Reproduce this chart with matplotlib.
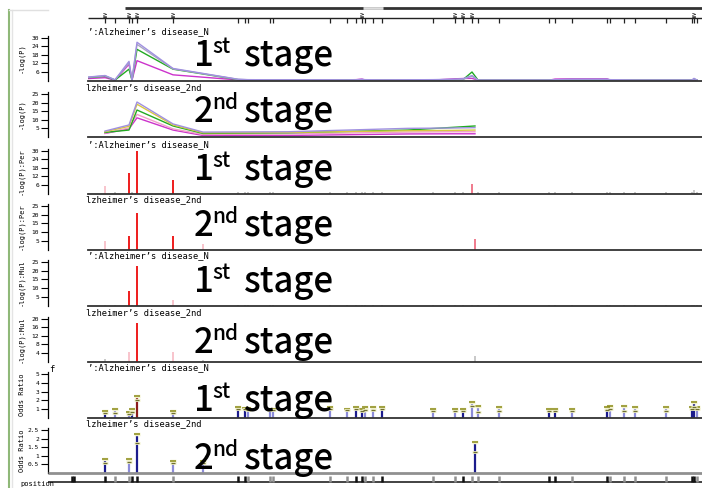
import matplotlib.pyplot as plt

W, H = 702, 488

# SNP positions (kb from the left edge of the data area)
snp_kb = [-16, -14, 17, 27, 41, 44, 49, 85, 150, 157, 160, 182, 185, 242, 259,
          268, 274, 277, 285, 294, 345, 367, 375, 384, 390, 411, 461, 467, 484,
          519, 522, 536, 547, 578, 604, 606, 609]
marked_kb = [17, 41, 49, 85, 274, 367, 375, 384, 606]

# stage 1 -log(P) lines, one value per SNP
lav1 = [1.2, 1.5, 3.5, 0.5, 13.5, 0.3, 27.0, 8.5, 0.9, 0.7, 0.6, 0.5, 0.5, 0.5, 0.4,
        0.5, 0.8, 0.6, 0.5, 0.4, 0.6, 0.9, 1.2, 3.5, 0.3, 0.3, 0.3, 0.6, 0.9, 0.9,
        0.6, 0.4, 0.3, 0.3, 0.3, 1.5, 0.3]
gry1 = [1.1, 1.4, 3.3, 0.4, 12.5, 0.3, 25.5, 8.2, 0.8, 0.6, 0.5, 0.4, 0.4, 0.4, 0.4,
        0.4, 0.6, 0.5, 0.4, 0.4, 0.5, 0.7, 0.9, 3.0, 0.3, 0.3, 0.3, 0.5, 0.7, 0.7,
        0.5, 0.4, 0.3, 0.3, 0.3, 1.2, 0.3]
grn1 = [0.9, 1.2, 3.0, 0.3, 8.0, 0.3, 22.0, 8.0, 0.6, 0.4, 0.4, 0.3, 0.3, 0.3, 0.5,
        0.3, 0.4, 0.3, 0.3, 0.3, 0.3, 0.6, 0.6, 6.0, 0.3, 0.3, 0.3, 0.5, 0.4, 0.3,
        0.3, 0.3, 0.3, 0.3, 0.3, 0.8, 0.3]
mag1 = [0.6, 0.8, 2.0, 0.2, 11.5, 0.2, 14.0, 4.0, 0.4, 0.3, 0.3, 0.4, 0.5, 0.5, 0.5,
        0.6, 1.0, 0.4, 0.4, 0.4, 0.3, 1.2, 1.4, 1.5, 0.2, 0.2, 0.2, 1.0, 1.2, 1.2,
        0.4, 0.3, 0.2, 0.2, 0.2, 0.4, 0.2]

# stage 2 -log(P) lines
line2_kb = [17, 41, 49, 85, 115, 200, 320, 365, 387]
lav2 = [3.2, 6.8, 20.3, 7.4, 2.6, 2.8, 4.8, 5.0, 5.2]
yel2 = [2.8, 6.0, 19.0, 6.8, 2.2, 2.4, 3.4, 3.6, 3.8]
grn2 = [2.4, 3.8, 15.6, 6.2, 1.8, 2.2, 3.8, 5.4, 6.2]
pnk2 = [2.0, 5.0, 13.0, 4.5, 1.2, 1.5, 2.6, 2.8, 2.8]
mag2 = [1.8, 4.5, 11.0, 3.8, 0.6, 0.6, 1.5, 1.6, 1.6]

# stage 2 SNPs
snp2_kb = [17, 41, 49, 85, 115, 387]

# permutation / multiple-testing -log(P)
per1 = [0, 0, 5.3, 1.0, 14.5, 1.0, 30.0, 9.5, 1.0, 1.0, 1.0, 1.0, 1.0, 1.0, 1.0,
        1.0, 1.0, 1.0, 1.0, 1.0, 1.0, 1.0, 1.0, 6.8, 1.0, 1.0, 1.0, 1.0, 1.0, 1.0,
        1.0, 1.0, 1.0, 1.0, 1.0, 2.5, 1.0]
per2 = [5.0, 7.7, 21.0, 7.7, 3.0, 6.0]
mul1 = [0, 0, 0.6, 0.6, 8.3, 0.6, 22.6, 3.0, 0.6, 0.6, 0.6, 0.6, 0.6, 0.6, 0.6,
        0.6, 0.6, 0.6, 0.6, 0.6, 0.6, 0.6, 0.6, 0.6, 0.6, 0.6, 0.6, 0.6, 0.6, 0.6,
        0.6, 0.6, 0.6, 0.6, 0.6, 0.6, 0.6]
mul2 = [1.0, 4.5, 18.0, 4.5, 0.5, 2.5]

# odds ratios, stage 1 (SNPs from 17 kb on)
or1 = [0.6, 0.58, 0.45, 0.7, 2.0, 0.5, 1.0, 0.95, 0.9, 0.85, 0.85, 0.95, 0.85,
       0.96, 0.8, 0.9, 0.92, 1.0, 0.74, 0.77, 0.77, 1.34, 0.7, 0.8, 0.8, 0.78,
       0.75, 0.88, 1.0, 0.8, 0.8, 0.8, 1.0, 1.27, 1.0]
or1_up = [0.8, 1.0, 0.7, 1.0, 2.5, 0.75, 1.2, 1.1, 1.1, 1.0, 1.0, 1.2, 1.0,
          1.2, 0.96, 1.2, 1.2, 1.2, 1.0, 0.96, 0.96, 1.84, 1.3, 1.2, 0.96, 0.96,
          0.96, 1.2, 1.3, 1.3, 1.2, 1.2, 1.2, 1.76, 1.2]
or1_cat = ['d', 'l', 'l', 'd', 'r', 'l', 'd', 'd', 'l', 'l', 'l', 'l', 'l',
           'd', 'd', 'l', 'l', 'd', 'l', 'l', 'd', 'l', 'l', 'l', 'd', 'd',
           'l', 'd', 'l', 'l', 'l', 'l', 'd', 'd', 'l']
or2 = [0.55, 0.6, 1.75, 0.55, 0.55, 1.2]
or2_up = [0.8, 0.8, 2.25, 0.7, 0.65, 1.8]
or2_cat = ['d', 'l', 'd', 'l', 'l', 'd']

or_colors = {'d': '#1c1c8c', 'l': '#8c8cd8', 'r': '#8c1c1c'}


def bar_color(v):
    if v >= 7.5:
        return '#ee1c1c'
    if v >= 5.5:
        return '#f07a8c'
    if v >= 2.8:
        return '#f8c4cc'
    return '#c8c8c8'


plt.rcParams['font.family'] = ['DejaVu Sans Mono']
fig = plt.figure(figsize=(W / 100, H / 100), dpi=100)


def px_axes(x0, y0, x1, y1):
    return fig.add_axes([x0 / W, 1 - y1 / H, (x1 - x0) / W, (y1 - y0) / H])


def fpos(x, y):
    return x / W, 1 - y / H


# panel layout: top pixel, zero pixel, ymax, ticks, y label, stage
panels = [
    (36, 80.5, 31.4, [6, 12, 18, 24, 30], '-log(P)', 1),
    (92, 136.5, 26.2, [5, 10, 15, 20, 25], '-log(P)', 2),
    (149, 193.5, 31.4, [6, 12, 18, 24, 30], '-log(P):Per', 1),
    (204, 249.75, 26.1, [5, 10, 15, 20, 25], '-log(P):Per', 2),
    (260, 305.75, 26.1, [5, 10, 15, 20, 25], '-log(P):Mul', 1),
    (317, 361.5, 20.9, [4, 8, 12, 16, 20], '-log(P):Mul', 2),
    (372, 417.75, 5.23, [1, 2, 3, 4, 5], 'Odds Ratio', 1),
    (428, 472.5, 2.62, [0.5, 1, 1.5, 2, 2.5], 'Odds Ratio', 2),
]
text_base = [66, 122, 180, 236, 292, 353, 411, 469]

data_axes = []
for i, (top, zero, ymax, ticks, ylab, stage) in enumerate(panels):
    fa = px_axes(48, top, 702, zero)
    fa.set_ylim(0, ymax)
    fa.set_xlim(0, 1)
    fa.set_yticks(ticks)
    fa.set_yticklabels([('%g' % t) for t in ticks], fontsize=4.5)
    fa.tick_params(axis='y', length=5, width=0.8, pad=1.5)
    fa.set_xticks([])
    for s in ['top', 'right', 'bottom']:
        fa.spines[s].set_visible(False)
    fa.spines['left'].set_linewidth(0.9)
    fa.patch.set_alpha(0)

    da = px_axes(88, top, 702, zero)
    da.set_xlim(0, 614)
    da.set_ylim(0, ymax)
    da.set_xticks([])
    da.set_yticks([])
    for s in ['top', 'right', 'left']:
        da.spines[s].set_visible(False)
    if i < 7:
        da.spines['bottom'].set_linewidth(1.3)
        da.spines['bottom'].set_color('#333333')
    else:
        da.spines['bottom'].set_visible(False)
    da.patch.set_alpha(0)
    data_axes.append(da)

    fig.text(*fpos(22, (top + zero) / 2), ylab, rotation=90, fontsize=5,
             ha='center', va='center')
    if stage == 1:
        fig.text(*fpos(88, top - 4.5), '\u2019:Alzheimer\u2019s disease_N',
                 fontsize=6.3, ha='left', va='center')
    else:
        fig.text(*fpos(86, top - 4.5), 'lzheimer\u2019s disease_2nd',
                 fontsize=6.3, ha='left', va='center')

fig.text(*fpos(49, 369), 'f', fontsize=6.3, ha='left', va='center')

# panel 1: stage 1 lines
ax = data_axes[0]
for vals, c in [(mag1, '#cc33cc'), (grn1, '#22aa22'), (gry1, '#a8a8c0'), (lav1, '#a090e0')]:
    ax.plot(snp_kb, vals, color=c, lw=1.0)

# panel 2: stage 2 lines
ax = data_axes[1]
for vals, c in [(mag2, '#cc33cc'), (pnk2, '#f0a0c8'), (grn2, '#22aa22'),
                (yel2, '#d8c840'), (lav2, '#a090e0')]:
    ax.plot(line2_kb, vals, color=c, lw=1.0)

# panels 3-6: bars
for ax, kb, vals in [(data_axes[2], snp_kb, per1), (data_axes[3], snp2_kb, per2),
                     (data_axes[4], snp_kb, mul1), (data_axes[5], snp2_kb, mul2)]:
    ax.vlines(kb, 0, vals, colors=[bar_color(v) for v in vals], lw=1.4)

# panels 7-8: odds ratios
for ax, kb, vals, up, cat in [(data_axes[6], snp_kb[2:], or1, or1_up, or1_cat),
                              (data_axes[7], snp2_kb, or2, or2_up, or2_cat)]:
    ax.vlines(kb, 0, up, colors=[or_colors[c] for c in cat], lw=1.6)
    ax.plot(kb, up, '_', color='#f2f2cc', ms=5, mew=2.5)
    ax.plot(kb, up, '_', color='#8a8a18', ms=4, mew=1.1)
    ax.plot(kb, vals, '_', color='#f2f2cc', ms=4.5, mew=2)
    ax.plot(kb, vals, '_', color='#707030', ms=3.5, mew=0.9)

# big stage labels
for (top, zero, ymax, ticks, ylab, stage), yb in zip(panels, text_base):
    digit, suf = ('1', 'st') if stage == 1 else ('2', 'nd')
    fig.text(*fpos(194, yb), digit, fontsize=25, family='Noto Sans CJK JP',
             weight='medium', ha='left', va='baseline')
    fig.text(*fpos(212, yb - 13), suf, fontsize=15, family='Noto Sans CJK JP',
             weight='medium', ha='left', va='baseline')
    fig.text(*fpos(244, yb), 'stage', fontsize=25, family='Noto Sans CJK JP',
             weight='medium', ha='left', va='baseline')

# top SNP marker row
ta = px_axes(88, 4, 702, 26)
ta.set_xlim(0, 614)
ta.set_ylim(26, 4)
ta.axis('off')
ta.hlines(8, 37, 614, color='#333333', lw=2)
ta.hlines(8, 275, 295, color='#dddddd', lw=2)
ta.hlines(18, 0, 614, color='#222222', lw=1)
ta.vlines(snp_kb, 18, 23, color='#222222', lw=0.9)
for k in marked_kb:
    ta.text(k, 14, '\u2267', fontsize=5, ha='center', va='center')

# bottom position row
ba = px_axes(48, 468, 702, 488)
ba.set_xlim(-40, 614)
ba.set_ylim(488, 468)
ba.axis('off')
ba.hlines(473, -40, 614, color='#909090', lw=2)
ba.hlines(482.5, -40, 614, color='#222222', lw=1.2)
row_cat = ['d', 'd'] + or1_cat
ba.vlines(snp_kb, 476, 482, colors=['#111111' if c != 'l' else '#909090' for c in row_cat], lw=1.8)
fig.text(*fpos(20, 484), 'position', fontsize=5, ha='left', va='center')

# left border
fig.add_artist(plt.Line2D([8.5 / W, 8.5 / W], [0, 1 - 10 / H], color='#8fb878', lw=1.5))
fig.add_artist(plt.Line2D([11.5 / W, 11.5 / W], [0, 1 - 10 / H], color='#e4e4e4', lw=1))
fig.add_artist(plt.Line2D([8.5 / W, 48 / W], [1 - 10 / H, 1 - 10 / H], color='#e0e0e0', lw=1))

fig.savefig('out.png', dpi=100)
